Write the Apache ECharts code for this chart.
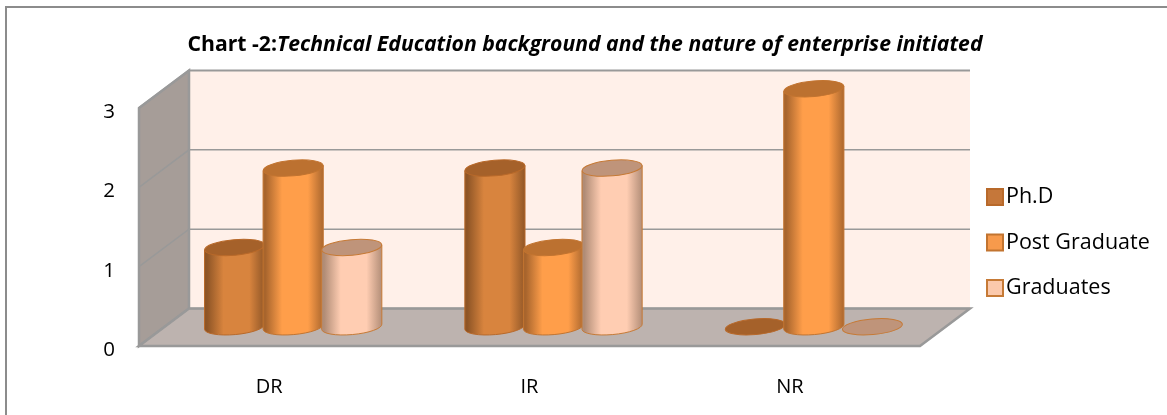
<!DOCTYPE html>
<html><head><meta charset="utf-8">
<style>html,body{margin:0;padding:0;background:#fff}#c{width:1167px;height:415px}</style>
<script src="https://cdn.jsdelivr.net/npm/echarts@6/dist/echarts.min.js"></script>
</head><body><div id="c"></div>
<script>
var categories = ['DR', 'IR', 'NR'];
var phd = [1, 2, 0];
var postGraduate = [2, 1, 3];
var graduates = [1, 2, 0];
var valueTicks = [0, 1, 2, 3];

var DEPTH_X = 50, DEPTH_Y = 37.5, FONT = 'Open Sans';
var TILT = 5 * Math.PI / 180;
var palette = {
  'Ph.D': {swatch:'#C5773A', edge:'#8E5526', mid:'#D8843E', top:'#A5612A', stroke:'#B8692A'},
  'Post Graduate': {swatch:'#F79A4C', edge:'#A8652D', mid:'#FF9E4A', top:'#BC7130', stroke:'#C27430'},
  'Graduates': {swatch:'#FBC9AC', edge:'#B08C76', mid:'#FFCDB2', top:'#BF947A', stroke:'#C67A36'}
};

function wall(points, fill, stroke) {
  return {type:'polygon', shape:{points:points}, silent:true,
    style:{fill:fill, stroke:stroke, lineWidth:2.5}};
}
function renderWalls(params, api) {
  var cs = params.coordSys;
  var L = cs.x, R = cs.x + cs.width, T = cs.y, B = cs.y + cs.height;
  var kids = [
    wall([[L+DEPTH_X,T-DEPTH_Y],[R+DEPTH_X,T-DEPTH_Y],[R+DEPTH_X,B-DEPTH_Y],[L+DEPTH_X,B-DEPTH_Y]], '#FFF0E9', 'none'),
    wall([[L,T],[L+DEPTH_X,T-DEPTH_Y],[L+DEPTH_X,B-DEPTH_Y],[L,B]], '#A69D98', '#999999'),
    wall([[L,B],[L+DEPTH_X,B-DEPTH_Y],[R+DEPTH_X,B-DEPTH_Y],[R,B]], '#BDB3AF', '#999999')
  ];
  valueTicks.forEach(function (t) {
    var y = api.coord([0, t])[1];
    kids.push({type:'polyline', silent:true, shape:{points:[[L,y],[L+DEPTH_X,y-DEPTH_Y],[R+DEPTH_X,y-DEPTH_Y]]},
      style:{fill:'none', stroke:'#999999', lineWidth:t === 3 ? 2 : 1.5}});
  });
  return {type:'group', children:kids};
}
function cylinder(seriesIndex, seriesName) {
  return function (params, api) {
    var c = palette[seriesName];
    var band = api.size([1, 0])[0];
    var w = band * 0.225, rx = w / 2 + 0.8, ry = 7.8;
    var off = (seriesIndex - 1) * w + DEPTH_X / 2 - 1;
    var base = api.coord([api.value(0), 0]);
    var top = api.coord([api.value(0), api.value(1)]);
    var x = base[0] + off, yb = base[1] - DEPTH_Y / 2 - 0.5, yt = top[1] - DEPTH_Y / 2 - 0.5;
    var d = rx * Math.sin(TILT);
    var kids = [];
    if (api.value(1) > 0) {
      kids.push({type:'path', silent:true,
        shape:{pathData:'M'+(x-rx)+' '+(yt+d)+' L'+(x-rx)+' '+(yb+d)+' A'+rx+' '+ry+' -5 0 0 '+(x+rx)+' '+(yb-d)+' L'+(x+rx)+' '+(yt-d)+' Z',
          layout:'none'},
        style:{stroke:c.stroke, lineWidth:1,
          fill:{type:'linear',x:0,y:0,x2:1,y2:0,colorStops:[
            {offset:0,color:c.edge},{offset:0.05,color:c.edge},{offset:0.32,color:c.mid},{offset:0.74,color:c.mid},{offset:1,color:c.edge}]}}});
    }
    kids.push({type:'ellipse', silent:true, x:x, y:yt, rotation:TILT, shape:{cx:0, cy:0, rx:rx, ry:ry},
      style:{fill:c.top, stroke:c.stroke, lineWidth:1}});
    return {type:'group', children:kids};
  };
}
function cylinderSeries(name, values, idx) {
  return {
    name:name, type:'custom', coordinateSystem:'cartesian2d', z:5 + idx,
    itemStyle:{color:palette[name].swatch, borderColor:palette[name].stroke, borderWidth:2},
    renderItem:cylinder(idx, name),
    encode:{x:0, y:1},
    data:values.map(function (v, i) { return [i, v]; })
  };
}
var chart = echarts.init(document.getElementById('c'), null, {renderer:'canvas'});
chart.setOption({
  animation:false,
  backgroundColor:'#fff',
  textStyle:{fontFamily:FONT},
  graphic:[{type:'polyline', silent:true, shape:{points:[[6,415],[6,7],[1167,7]]}, style:{fill:'none',stroke:'#8C8C8C',lineWidth:2}}],
  title:{
    text:'{a|Chart -2:}{b|Technical Education background and the nature of enterprise initiated}',
    left:580, top:29, textAlign:'center',
    textStyle:{rich:{
      a:{fontFamily:FONT,fontWeight:'bold',fontSize:21.2,color:'#000'},
      b:{fontFamily:FONT,fontWeight:'bold',fontStyle:'italic',fontSize:21.2,color:'#000'}}}
  },
  legend:{
    orient:'vertical', left:986, top:186, padding:0, itemWidth:16, itemHeight:16, itemGap:23.5,
    icon:'rect', selectedMode:false,
    data:['Ph.D','Post Graduate','Graduates'],
    textStyle:{fontFamily:FONT,fontSize:21.5,color:'#000',lineHeight:16,padding:[0,0,0,-2]}
  },
  grid:{left:139, top:108, width:781, height:238},
  xAxis:{type:'category', data:categories, axisLine:{show:false}, axisTick:{show:false}, splitLine:{show:false},
    axisLabel:{fontSize:20, color:'#000', margin:31, fontFamily:FONT}},
  yAxis:{type:'value', min:0, max:3, interval:1, axisLine:{show:false}, axisTick:{show:false}, splitLine:{show:false},
    axisLabel:{fontSize:20.5, color:'#000', margin:24, fontFamily:FONT, verticalAlign:'top', lineHeight:8}},
  series:[
    {type:'custom', coordinateSystem:'cartesian2d', z:1, silent:true, renderItem:renderWalls, data:[[0,0]], encode:{x:0,y:1}},
    cylinderSeries('Ph.D', phd, 0),
    cylinderSeries('Post Graduate', postGraduate, 1),
    cylinderSeries('Graduates', graduates, 2)
  ]
});
</script></body></html>
